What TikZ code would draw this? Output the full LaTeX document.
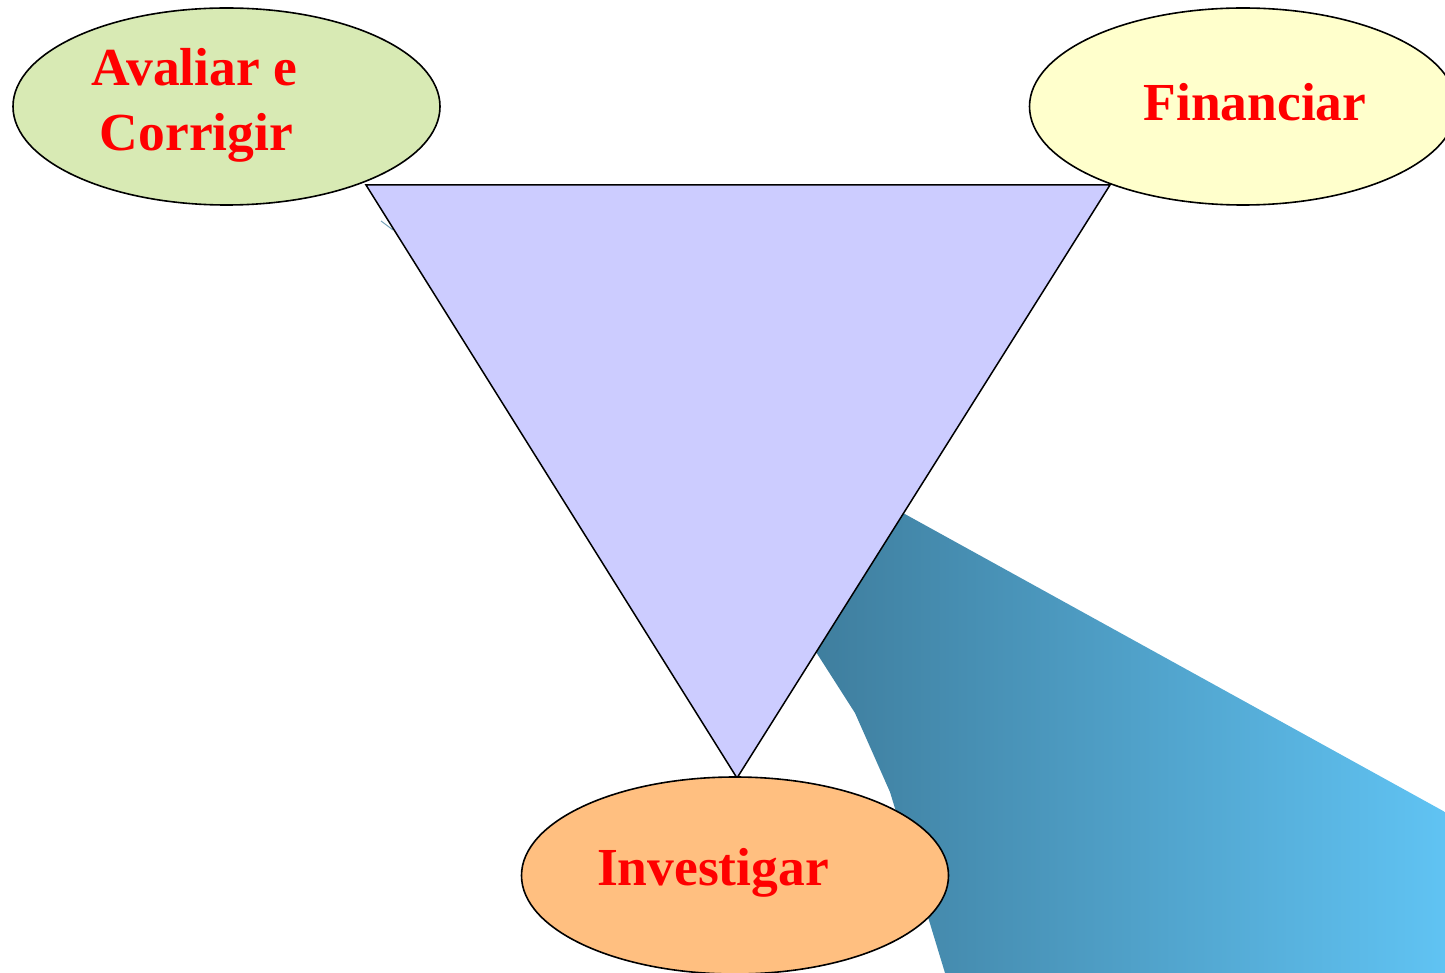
\documentclass[tikz,border=0pt]{standalone}
\usepackage{fontspec}
\setmainfont{Liberation Serif}
\usetikzlibrary{shapes.geometric}
\definecolor{gfill}{HTML}{D8EAB4}
\definecolor{yfill}{HTML}{FFFFCC}
\definecolor{ofill}{HTML}{FFBF80}
\definecolor{tfill}{HTML}{CCCCFF}
\definecolor{bandL}{HTML}{3F7E9E}
\definecolor{bandR}{HTML}{60C3F3}
\tikzset{
  bubble/.style={ellipse, draw=black, line width=1.6pt, minimum width=427pt, minimum height=197pt, inner sep=0pt},
  lbl/.style={text=red, font=\fontsize{53.5}{64}\selectfont\bfseries, anchor=base, inner sep=0pt}
}
\begin{document}
\begin{tikzpicture}[x=1pt,y=-1pt]
\useasboundingbox (0,0) rectangle (1445,973);
\clip (0,0) rectangle (1445,973);
% band
\shade[left color=bandL, right color=bandR]
  (903,513) -- (1445,812) -- (1445,973) -- (945,973) -- (890,792) -- (855,713) -- (816,652) -- cycle;
\draw[bandL!70!white, line width=1pt] (381,221) -- (393,230);
% triangle
\coordinate (t1) at (366,185);
\coordinate (t2) at (1110,185);
\coordinate (t3) at (737,778);
\filldraw[fill=tfill, draw=black, line width=1.5pt, line join=miter] (t1) -- (t2) -- (t3) -- cycle;
% ellipses
\node[bubble, fill=gfill] (ac) at (226.5,106.5) {};
\node[bubble, fill=yfill] (fin) at (1243,106.5) {};
\node[bubble, fill=ofill] (inv) at (735,875.5) {};
% labels
\node[lbl] (ac1) at (194.5,86) {Avaliar e};
\node[lbl] (ac2) at (196.5,150.7) {Corrigir};
\node[lbl] (fin1) at (1255,121) {Financiar};
\node[lbl] (inv1) at (713,885) {Investigar};
\end{tikzpicture}
\end{document}
